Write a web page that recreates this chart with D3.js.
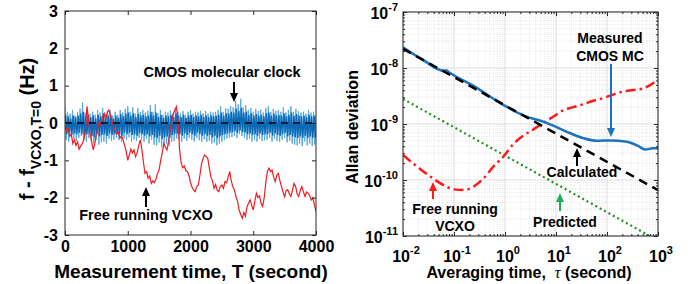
<!DOCTYPE html>
<html>
<head>
<meta charset="utf-8">
<script src="https://cdn.jsdelivr.net/npm/d3@7"></script>
<style>
  body { margin: 0; background: #fff; }
  svg text { font-family: "Liberation Sans", Arial, sans-serif; font-weight: bold; fill: #000; }
</style>
</head>
<body>
<svg id="chart" width="693" height="284"></svg>
<script>
// ---------- data: left panel (frequency drift vs time) ----------
const timeTicks = [0, 1000, 2000, 3000, 4000];
const freqTicks = [-3, -2, -1, 0, 1, 2, 3];

// CMOS molecular clock, sampled every 20 s (outer, light trace)
const cmosLight = [
  0.42,-0.45,0.3,-0.5,0.25,-0.38,0.35,-0.42,0.2,-0.48,
  0.3,-0.4,0.38,-0.35,0.55,-0.45,0.28,-0.5,0.32,-0.4,
  0.25,-0.5,0.3,-0.55,0.22,-0.45,0.35,-0.58,0.28,-0.52,
  0.4,-0.5,0.25,-0.55,0.3,-0.42,0.34,-0.48,0.2,-0.45,
  0.3,-0.4,0.22,-0.46,0.35,-0.5,0.28,-0.42,0.38,-0.45,
  0.45,-0.38,0.3,-0.5,0.42,-0.44,0.25,-0.48,0.4,-0.4,
  0.3,-0.46,0.35,-0.5,0.28,-0.42,0.33,-0.55,0.48,-0.45,
  0.3,-0.58,0.5,-0.6,0.26,-0.52,0.35,-0.65,0.22,-0.6,
  0.3,-0.55,0.28,-0.62,0.34,-0.5,0.25,-0.48,0.4,-0.42,
  0.3,-0.45,0.26,-0.5,0.32,-0.42,0.22,-0.48,0.3,-0.4,
  0.35,-0.45,0.25,-0.5,0.3,-0.4,0.28,-0.46,0.33,-0.5,
  0.26,-0.44,0.32,-0.5,0.25,-0.48,0.3,-0.55,0.28,-0.52,
  0.3,-0.6,0.35,-0.55,0.45,-0.5,0.3,-0.46,0.4,-0.42,
  0.38,-0.4,0.45,-0.38,0.42,-0.35,0.6,-0.4,0.5,-0.3,
  0.65,-0.35,0.42,-0.4,0.48,-0.45,0.35,-0.42,0.4,-0.5,
  0.3,-0.45,0.38,-0.5,0.32,-0.42,0.35,-0.48,0.28,-0.46,
  0.4,-0.45,0.45,-0.4,0.3,-0.5,0.38,-0.42,0.32,-0.48,
  0.35,-0.5,0.3,-0.45,0.42,-0.4,0.28,-0.52,0.35,-0.48,
  0.45,-0.55,0.3,-0.58,0.38,-0.6,0.32,-0.55,0.28,-0.62,
  0.3,-0.5,0.25,-0.6,0.35,-0.55,0.28,-0.62,0.3,-0.58,
  0.25
];
// CMOS molecular clock, dense core trace (sampled at 10 s, 30 s, 50 s, ...)
const cmosDark = [
  0.22,-0.3,0.18,-0.25,0.12,-0.32,0.2,-0.28,0.15,-0.3,
  0.2,-0.26,0.25,-0.3,0.3,-0.34,0.18,-0.3,0.22,-0.28,
  0.15,-0.35,0.2,-0.38,0.12,-0.3,0.22,-0.36,0.18,-0.32,
  0.25,-0.3,0.15,-0.35,0.2,-0.28,0.22,-0.32,0.12,-0.3,
  0.2,-0.28,0.14,-0.3,0.24,-0.34,0.18,-0.26,0.25,-0.3,
  0.28,-0.26,0.2,-0.32,0.26,-0.3,0.16,-0.34,0.24,-0.28,
  0.2,-0.3,0.22,-0.34,0.18,-0.3,0.2,-0.36,0.3,-0.32,
  0.2,-0.38,0.28,-0.4,0.16,-0.34,0.22,-0.42,0.14,-0.38,
  0.2,-0.36,0.18,-0.4,0.22,-0.32,0.16,-0.3,0.26,-0.28,
  0.2,-0.3,0.16,-0.34,0.22,-0.28,0.14,-0.32,0.2,-0.26,
  0.22,-0.3,0.16,-0.34,0.2,-0.26,0.18,-0.3,0.22,-0.34,
  0.16,-0.3,0.2,-0.34,0.15,-0.32,0.2,-0.38,0.18,-0.34,
  0.2,-0.4,0.22,-0.36,0.28,-0.32,0.2,-0.3,0.26,-0.28,
  0.25,-0.26,0.3,-0.24,0.28,-0.22,0.38,-0.26,0.32,-0.2,
  0.4,-0.24,0.28,-0.26,0.3,-0.3,0.22,-0.28,0.26,-0.32,
  0.2,-0.3,0.24,-0.34,0.2,-0.28,0.22,-0.32,0.18,-0.3,
  0.26,-0.3,0.28,-0.26,0.2,-0.34,0.25,-0.28,0.2,-0.32,
  0.22,-0.34,0.2,-0.3,0.26,-0.26,0.18,-0.36,0.22,-0.32,
  0.28,-0.36,0.2,-0.38,0.24,-0.4,0.2,-0.36,0.18,-0.4,
  0.2,-0.34,0.16,-0.4,0.22,-0.36,0.18,-0.4,0.2,-0.38
];
// free running VCXO, sampled every 25 s
const vcxoDrift = [
  -0.1,-0.2,-0.15,-0.35,-0.3,-0.55,-0.45,-0.6,-0.5,-0.7,
  -0.62,-0.55,-0.45,-0.2,0.45,0.1,-0.3,-0.5,-0.72,-0.55,
  -0.3,-0.15,0.05,-0.05,0.15,0.25,0.1,0.3,0.35,0.2,
  0.05,-0.1,-0.2,-0.3,-0.25,-0.4,-0.35,-0.45,-0.6,-0.75,
  -1.0,-0.85,-0.7,-0.8,-0.72,-0.9,-0.8,-0.6,-0.45,-0.7,
  -1.05,-1.35,-1.3,-1.48,-1.42,-1.62,-1.55,-1.6,-1.5,-1.35,
  -1.25,-1.0,-0.8,-0.55,-0.65,-0.72,-0.5,-0.2,0.05,0.25,
  0.35,0.44,0.1,-0.7,-1.05,-1.2,-1.15,-1.28,-1.3,-1.4,
  -1.6,-1.72,-1.8,-1.84,-1.7,-1.66,-1.4,-1.1,-0.95,-0.86,
  -0.9,-0.95,-1.2,-1.45,-1.55,-1.75,-1.65,-1.8,-1.84,-1.7,
  -1.66,-1.75,-1.57,-1.6,-1.45,-1.3,-1.55,-1.7,-1.8,-1.97,
  -2.1,-2.33,-2.45,-2.55,-2.4,-2.5,-2.24,-2.15,-2.06,-2.2,
  -2.33,-2.1,-1.88,-2.0,-1.95,-2.15,-2.24,-2.0,-1.6,-1.3,
  -1.21,-1.3,-1.26,-1.45,-1.57,-1.4,-1.35,-1.55,-1.7,-1.85,
  -1.97,-1.8,-1.79,-1.9,-1.97,-1.8,-1.62,-1.7,-1.9,-1.97,
  -1.8,-1.7,-1.85,-1.97,-1.85,-1.88,-1.95,-2.06,-2.0,-2.2,
  -2.37
];

// ---------- data: right panel (Allan deviation) ----------
const tauDecades = [1e-2, 1e-1, 1e0, 1e1, 1e2, 1e3];
const adevDecades = [1e-11, 1e-10, 1e-9, 1e-8, 1e-7];

const measTau  = [0.01, 0.025, 0.063, 0.07, 0.078, 0.25, 1, 2.5, 5.6, 10, 18.6, 33.9, 63, 115, 245, 398, 562, 794, 1000];
const measAdev = [2.34e-8, 1.38e-8, 8.9e-9, 9.1e-9, 8.5e-9, 4.7e-9, 2.1e-9, 1.38e-9, 1.1e-9, 8.9e-10,
                  6.9e-10, 5.6e-10, 5.0e-10, 5.1e-10, 4.8e-10, 4.1e-10, 3.5e-10, 3.7e-10, 3.7e-10];

const calcTau  = [0.01, 1000];
const calcAdev = [2.2e-8, 6.6e-11];

const predTau  = [0.01, 1000];
const predAdev = [2.8e-9, 8.3e-12];

const vcxoTau  = [0.01, 0.0188, 0.0343, 0.0624, 0.098, 0.153, 0.241, 0.38, 0.593, 0.933, 1.46, 2.29, 3.59,
                  5.62, 8.83, 13.8, 21.8, 34.1, 53.6, 84, 132, 207, 324, 509, 687, 1000];
const vcxoAdev = [2.8e-10, 1.74e-10, 1.15e-10, 8.1e-11, 6.8e-11, 6.6e-11, 7.6e-11, 1.07e-10, 1.74e-10, 2.63e-10,
                  4.4e-10, 6.2e-10, 8.0e-10, 1.05e-9, 1.35e-9, 1.75e-9, 2.0e-9, 2.25e-9, 2.6e-9, 2.9e-9,
                  3.35e-9, 3.8e-9, 4.05e-9, 4.3e-9, 4.9e-9, 6.2e-9];

const svg = d3.select("#chart");
const axisColor = "#262626";

// draw a vertical arrow: shaft from y0 to the tip at y1
function arrow(x, y0, y1, color) {
  const dir = y1 > y0 ? 1 : -1;
  const head = 9;
  svg.append("line")
    .attr("x1", x).attr("x2", x)
    .attr("y1", y0).attr("y2", y1 - dir * head)
    .attr("stroke", color).attr("stroke-width", 2);
  svg.append("path")
    .attr("d", `M${x - 4},${y1 - dir * head} L${x + 4},${y1 - dir * head} L${x},${y1} Z`)
    .attr("fill", color);
}

// ================= left panel =================
const xL = d3.scaleLinear().domain([0, 4000]).range([65, 316]);
const yL = d3.scaleLinear().domain([-3, 3]).range([235, 11]);

svg.append("clipPath").attr("id", "clipL")
  .append("rect").attr("x", 65).attr("y", 11).attr("width", 251).attr("height", 224);

const left = svg.append("g").attr("clip-path", "url(#clipL)");

const lineL = (step, start) => d3.line()
  .x((d, i) => xL(start + i * step))
  .y(d => yL(d));

left.append("path").datum(cmosLight)
  .attr("d", lineL(20, 0)).attr("fill", "none")
  .attr("stroke", "#5aa8de").attr("stroke-width", 1);
left.append("path").datum(cmosDark)
  .attr("d", lineL(20, 10)).attr("fill", "none")
  .attr("stroke", "#0a68b4").attr("stroke-width", 1.4);
left.append("path").datum(vcxoDrift)
  .attr("d", lineL(25, 0)).attr("fill", "none")
  .attr("stroke", "#f01c24").attr("stroke-width", 1.2);
left.append("line")
  .attr("x1", xL(0)).attr("x2", xL(4000))
  .attr("y1", yL(0)).attr("y2", yL(0))
  .attr("stroke", "#000").attr("stroke-width", 1.6)
  .attr("stroke-dasharray", "7,5");

// axes (ticks inside, on all sides)
const axL = svg.append("g");
axL.append("g").attr("transform", "translate(0,235)")
  .call(d3.axisBottom(xL).tickValues(timeTicks).tickSize(-4).tickPadding(6).tickFormat(d => String(d)));
axL.append("g").attr("transform", "translate(0,11)")
  .call(d3.axisTop(xL).tickValues(timeTicks).tickSize(-4).tickFormat(""));
axL.append("g").attr("transform", "translate(65,0)")
  .call(d3.axisLeft(yL).tickValues(freqTicks).tickSize(-4).tickPadding(7).tickFormat(d => String(d)));
axL.append("g").attr("transform", "translate(316,0)")
  .call(d3.axisRight(yL).tickValues(freqTicks).tickSize(-4).tickFormat(""));
axL.selectAll(".domain").remove();
axL.selectAll(".tick line").attr("stroke", axisColor);
axL.selectAll("text").attr("font-size", 16).attr("font-family", null);
svg.append("rect")
  .attr("x", 65).attr("y", 11).attr("width", 251).attr("height", 224)
  .attr("fill", "none").attr("stroke", axisColor).attr("stroke-width", 1);

svg.append("text")
  .attr("x", 191).attr("y", 278).attr("text-anchor", "middle")
  .attr("font-size", 19)
  .text("Measurement time, T (second)");

const yTitleL = svg.append("text")
  .attr("transform", "translate(34,129) rotate(-90)")
  .attr("text-anchor", "middle")
  .attr("font-size", 20);
yTitleL.append("tspan").text("f - f");
yTitleL.append("tspan").attr("font-size", 14).attr("dy", 7).text("VCXO,T=0");
yTitleL.append("tspan").attr("dy", -7).text("\u00a0(Hz)");

svg.append("text").attr("x", 222).attr("y", 77)
  .attr("text-anchor", "middle").attr("font-size", 14.5)
  .text("CMOS molecular clock");
arrow(234, 82, 102, "#000");

svg.append("text").attr("x", 146).attr("y", 220)
  .attr("text-anchor", "middle").attr("font-size", 14.5)
  .text("Free running VCXO");
arrow(146, 207, 187, "#000");

// ================= right panel =================
const xR = d3.scaleLog().domain([1e-2, 1e3]).range([403, 658]);
const yR = d3.scaleLog().domain([1e-11, 1e-7]).range([236, 12]);

const minorTau = [];
tauDecades.slice(0, -1).forEach(d => [2, 3, 4, 5, 6, 7, 8, 9].forEach(m => minorTau.push(d * m)));
const minorAdev = [];
adevDecades.slice(0, -1).forEach(d => [2, 3, 4, 5, 6, 7, 8, 9].forEach(m => minorAdev.push(d * m)));

const grid = svg.append("g");
grid.selectAll(".gxm").data(minorTau).join("line")
  .attr("x1", d => xR(d)).attr("x2", d => xR(d)).attr("y1", 12).attr("y2", 236)
  .attr("stroke", "#e4e4e4").attr("stroke-width", 0.8).attr("stroke-dasharray", "1,1");
grid.selectAll(".gym").data(minorAdev).join("line")
  .attr("y1", d => yR(d)).attr("y2", d => yR(d)).attr("x1", 403).attr("x2", 658)
  .attr("stroke", "#e4e4e4").attr("stroke-width", 0.8).attr("stroke-dasharray", "1,1");
grid.selectAll(".gx").data(tauDecades).join("line")
  .attr("x1", d => xR(d)).attr("x2", d => xR(d)).attr("y1", 12).attr("y2", 236)
  .attr("stroke", "#d6d6d6").attr("stroke-width", 0.8);
grid.selectAll(".gy").data(adevDecades).join("line")
  .attr("y1", d => yR(d)).attr("y2", d => yR(d)).attr("x1", 403).attr("x2", 658)
  .attr("stroke", "#d6d6d6").attr("stroke-width", 0.8);

svg.append("clipPath").attr("id", "clipR")
  .append("rect").attr("x", 403).attr("y", 12).attr("width", 255).attr("height", 224);
const right = svg.append("g").attr("clip-path", "url(#clipR)");

const lineR = d3.line().x(d => xR(d[0])).y(d => yR(d[1])).curve(d3.curveMonotoneX);
const zip = (a, b) => a.map((v, i) => [v, b[i]]);

right.append("path").datum(zip(predTau, predAdev))
  .attr("d", lineR).attr("fill", "none")
  .attr("stroke", "#1f931f").attr("stroke-width", 2.2).attr("stroke-dasharray", "2,3");
right.append("path").datum(zip(vcxoTau, vcxoAdev))
  .attr("d", lineR).attr("fill", "none")
  .attr("stroke", "#ff1a1a").attr("stroke-width", 2.5).attr("stroke-dasharray", "10,4,2.5,4");
right.append("path").datum(zip(measTau, measAdev))
  .attr("d", lineR).attr("fill", "none")
  .attr("stroke", "#1a72c0").attr("stroke-width", 2.5);
right.append("path").datum(zip(calcTau, calcAdev))
  .attr("d", lineR).attr("fill", "none")
  .attr("stroke", "#000").attr("stroke-width", 2.5).attr("stroke-dasharray", "9,6");

// ticks on all four sides
const axR = svg.append("g");
axR.append("g").attr("transform", "translate(0,236)")
  .call(d3.axisBottom(xR).tickValues(tauDecades).tickSize(-4).tickFormat(""));
axR.append("g").attr("transform", "translate(0,12)")
  .call(d3.axisTop(xR).tickValues(tauDecades).tickSize(-4).tickFormat(""));
axR.append("g").attr("transform", "translate(0,236)")
  .call(d3.axisBottom(xR).tickValues(minorTau).tickSize(-2).tickFormat(""));
axR.append("g").attr("transform", "translate(0,12)")
  .call(d3.axisTop(xR).tickValues(minorTau).tickSize(-2).tickFormat(""));
axR.append("g").attr("transform", "translate(403,0)")
  .call(d3.axisLeft(yR).tickValues(adevDecades).tickSize(-4).tickFormat(""));
axR.append("g").attr("transform", "translate(658,0)")
  .call(d3.axisRight(yR).tickValues(adevDecades).tickSize(-4).tickFormat(""));
axR.append("g").attr("transform", "translate(403,0)")
  .call(d3.axisLeft(yR).tickValues(minorAdev).tickSize(-2).tickFormat(""));
axR.append("g").attr("transform", "translate(658,0)")
  .call(d3.axisRight(yR).tickValues(minorAdev).tickSize(-2).tickFormat(""));
axR.selectAll(".domain").remove();
axR.selectAll(".tick line").attr("stroke", axisColor);
svg.append("rect")
  .attr("x", 403).attr("y", 12).attr("width", 255).attr("height", 224)
  .attr("fill", "none").attr("stroke", axisColor).attr("stroke-width", 1);

// power-of-ten tick labels
const exp10 = d => String(Math.round(Math.log10(d)));
svg.selectAll(".xlab").data(tauDecades).join("text")
  .attr("x", d => xR(d) + 3).attr("y", 262)
  .attr("text-anchor", "middle").attr("font-size", 16)
  .each(function (d) {
    const t = d3.select(this);
    t.append("tspan").text("10");
    t.append("tspan").attr("font-size", 11).attr("dy", -8).text(exp10(d));
  });
svg.selectAll(".ylab").data(adevDecades).join("text")
  .attr("x", 398).attr("y", d => yR(d) + 7)
  .attr("text-anchor", "end").attr("font-size", 16)
  .each(function (d) {
    const t = d3.select(this);
    t.append("tspan").text("10");
    t.append("tspan").attr("font-size", 11).attr("dy", -8).text(exp10(d));
  });

const xTitleR = svg.append("text")
  .attr("x", 529).attr("y", 278).attr("text-anchor", "middle")
  .attr("font-size", 16);
xTitleR.append("tspan").text("Averaging time,\u00a0\u00a0");
xTitleR.append("tspan").attr("font-family", "'Liberation Serif', serif")
  .attr("font-style", "italic").attr("font-weight", "normal").text("τ");
xTitleR.append("tspan").text("\u00a0(second)");

svg.append("text")
  .attr("transform", "translate(358,127) rotate(-90)")
  .attr("text-anchor", "middle").attr("font-size", 16)
  .text("Allan deviation");

// annotations
svg.append("text").attr("x", 610).attr("y", 43)
  .attr("text-anchor", "middle").attr("font-size", 14).text("Measured");
svg.append("text").attr("x", 610).attr("y", 61)
  .attr("text-anchor", "middle").attr("font-size", 14).text("CMOS MC");
arrow(611, 64, 137, "#1a72c0");

svg.append("text").attr("x", 582).attr("y", 177)
  .attr("text-anchor", "middle").attr("font-size", 14).text("Calculated");
arrow(577, 166, 148, "#000");

svg.append("text").attr("x", 565).attr("y", 227)
  .attr("text-anchor", "middle").attr("font-size", 14).text("Predicted");
arrow(560, 211, 193, "#1fae5c");

svg.append("text").attr("x", 455).attr("y", 214)
  .attr("text-anchor", "middle").attr("font-size", 14).text("Free running");
svg.append("text").attr("x", 455).attr("y", 231)
  .attr("text-anchor", "middle").attr("font-size", 14).text("VCXO");
arrow(433, 199, 182, "#ff1a1a");
</script>
</body>
</html>
